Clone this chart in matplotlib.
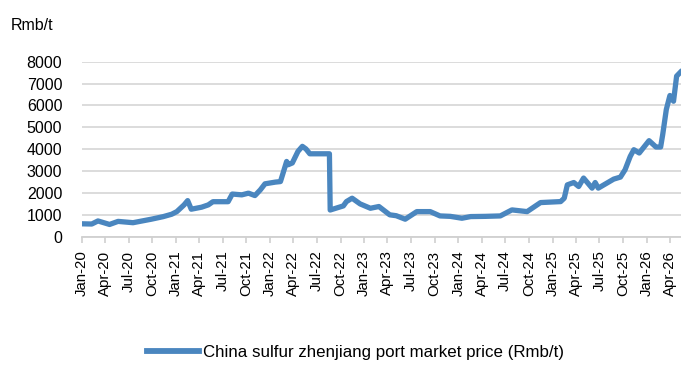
import pandas as pd
import matplotlib
matplotlib.use("Agg")
from matplotlib import pyplot as plt
import matplotlib.dates as mdates

plt.rcParams['font.family'] = ['Liberation Sans', 'DejaVu Sans']

## sulfur price, Zhenjiang port (Rmb/t)
dates = [
    '2020-01-01', '2020-02-09', '2020-03-04', '2020-04-18', '2020-05-21', '2020-07-18',
    '2020-09-27', '2020-11-12', '2020-12-15', '2021-01-04', '2021-02-01', '2021-02-15',
    '2021-03-01', '2021-04-10', '2021-05-06', '2021-05-24', '2021-07-22', '2021-08-07',
    '2021-09-13', '2021-10-09', '2021-11-03', '2021-11-24', '2021-12-12', '2022-01-21',
    '2022-02-10', '2022-02-20', '2022-03-06', '2022-03-12', '2022-03-28', '2022-04-19',
    '2022-05-06', '2022-05-20', '2022-06-04', '2022-08-19', '2022-08-22', '2022-10-12',
    '2022-10-24', '2022-11-15', '2022-12-16', '2023-01-25', '2023-02-27', '2023-04-10',
    '2023-05-05', '2023-06-09', '2023-07-24', '2023-09-14', '2023-10-22', '2023-12-01',
    '2024-01-15', '2024-02-18', '2024-04-15', '2024-06-12', '2024-07-27', '2024-09-24',
    '2024-11-15', '2025-02-01', '2025-02-15', '2025-02-27', '2025-03-24', '2025-04-12',
    '2025-05-01', '2025-06-03', '2025-06-15', '2025-06-27', '2025-08-26', '2025-09-21',
    '2025-10-09', '2025-10-29', '2025-11-12', '2025-12-03', '2026-01-10', '2026-02-06',
    '2026-02-24', '2026-03-04', '2026-03-18', '2026-04-01', '2026-04-15', '2026-04-27',
    '2026-05-12',
]
price = [
    590, 580, 720, 560, 700, 640,
    800, 917, 1027, 1147, 1454, 1650,
    1257, 1349, 1454, 1600, 1600, 1950,
    1913, 1990, 1880, 2142, 2417, 2495,
    2520, 2900, 3440, 3290, 3370, 3900,
    4130, 4010, 3790, 3790, 1220, 1408,
    1605, 1760, 1500, 1300, 1380, 1000,
    960, 800, 1147, 1147, 950, 930,
    844, 920, 930, 950, 1225, 1147,
    1560, 1605, 1760, 2370, 2477, 2294,
    2680, 2220, 2477, 2220, 2633, 2725,
    3060, 3670, 3977, 3826, 4390, 4100,
    4100, 4665, 5812, 6454, 6193, 7340,
    7523,
]
yticks = [0, 1000, 2000, 3000, 4000, 5000, 6000, 7000, 8000]

dt = pd.to_datetime(dates)

fig = plt.figure(figsize=(6.81, 3.65), dpi=100)
ax = fig.add_axes([0.12, 0.3515, 0.88, 0.4795])

ax.plot(dt, price, color='#4a86bf', lw=3.8, solid_joinstyle='round',
        label='China sulfur zhenjiang port market price (Rmb/t)')

ax.set_ylim(0, 8000)
ax.set_yticks(yticks)
ax.set_xlim(pd.Timestamp('2020-01-01'), pd.Timestamp('2026-05-14'))
ax.xaxis.set_major_locator(mdates.MonthLocator(bymonth=[1, 4, 7, 10]))
ax.xaxis.set_major_formatter(mdates.DateFormatter('%b-%y'))

ax.grid(axis='y', color='#d9d9d9', lw=1.3)
ax.set_axisbelow(True)
for s in ['top', 'right', 'left']:
    ax.spines[s].set_visible(False)
ax.spines['bottom'].set_color('#d0d0d0')
ax.spines['bottom'].set_linewidth(1.3)

ax.tick_params(axis='y', length=0, labelsize=11.5, pad=14)
ax.tick_params(axis='x', length=4, color='#d0d0d0', width=1.2,
               labelsize=10.8, labelrotation=90, pad=6)

fig.text(0.016, 0.93, 'Rmb/t', fontsize=11.5, va='center', ha='left')

fig.legend(loc='center', bbox_to_anchor=(0.522, 0.035), frameon=False,
           fontsize=12.2, handlelength=3.1, handletextpad=0.25)
for h in fig.legends[0].get_lines():
    h.set_linewidth(4.2)

fig.savefig('out.png', dpi=100)
